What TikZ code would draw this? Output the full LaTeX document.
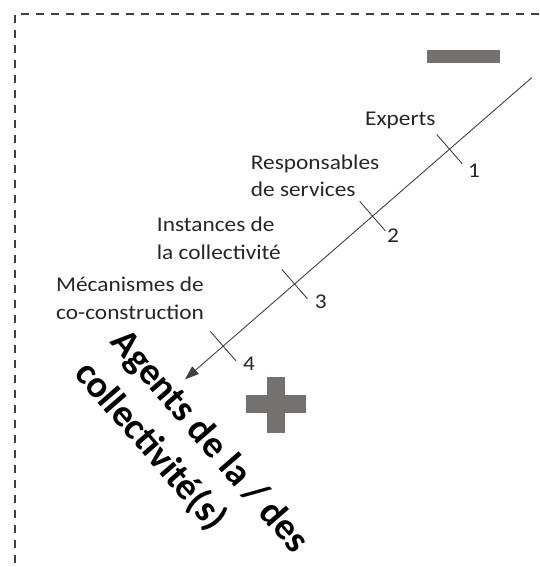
\documentclass[tikz,border=0pt]{standalone}
\usepackage{fontspec}
\setmainfont{Carlito}
\newfontfamily\widefont[FakeStretch=1.11]{Carlito}
\usetikzlibrary{arrows.meta,calc}
\definecolor{signgray}{HTML}{767171}
\definecolor{framegray}{HTML}{3F3F3F}
\tikzset{
  lbl/.style={font=\widefont\fontsize{21}{27.6}\selectfont, inner sep=0pt, align=left, text=black!85},
  num/.style={font=\widefont\fontsize{21}{25}\selectfont, inner sep=0pt, text=black!85},
  agents/.style={font=\bfseries\fontsize{38}{48}\selectfont, inner sep=0pt, align=left},
  tickmark/.style={draw=black!75, line width=0.9pt},
  sign/.style={fill=signgray, draw=none},
}
\begin{document}
\begin{tikzpicture}[x=1pt,y=-1pt]
\useasboundingbox (0,0) rectangle (539,567);
% frame, only top and left sides show
\draw[framegray, line width=2pt, dash pattern=on 8.3pt off 6.7pt] (539,14) -- (15,14) -- (15,567);
% minus and plus
\fill[sign] (427.3,50) rectangle (499.5,63.5);
\fill[sign] (245.7,395) rectangle (305.7,413.3);
\fill[sign] (266.7,376.7) rectangle (285,432.7);
% the axis
\coordinate (top) at (531.7,77.7);
\coordinate (tip) at (185,379.3);
\draw[black!75, line width=0.9pt, -{Triangle[length=14pt,width=10pt]}] (top) -- (tip);
\path (top) -- (tip) coordinate[pos=0.237] (t1) coordinate[pos=0.459] (t2)
  coordinate[pos=0.684] (t3) coordinate[pos=0.890] (t4);
\foreach \t in {t1,t2,t3,t4}
  \draw[tickmark] ($(\t)!19.5pt!90:(top)$) -- ($(\t)!19.5pt!-90:(top)$);
% levels (base = last line)
\node[lbl, anchor=base west] (experts) at (365,125) {Experts};
\node[lbl, anchor=base west] (services) at (250.7,196.7) {Responsables\\de services};
\node[lbl, anchor=base west] (instances) at (156.7,259.3) {Instances de\\la collectivité};
\node[lbl, anchor=base west] (coconst) at (56,319) {Mécanismes de\\co-construction};
\node[num] (n1) at (474,171) {1};
\node[num] (n2) at (393,236) {2};
\node[num] (n3) at (320.7,301.7) {3};
\node[num] (n4) at (249,364) {4};
% big rotated title
\node[agents, rotate=-49, anchor=base west] (agents) at (73,374) {Agents de la / des\\collectivité(s)};
\end{tikzpicture}
\end{document}
